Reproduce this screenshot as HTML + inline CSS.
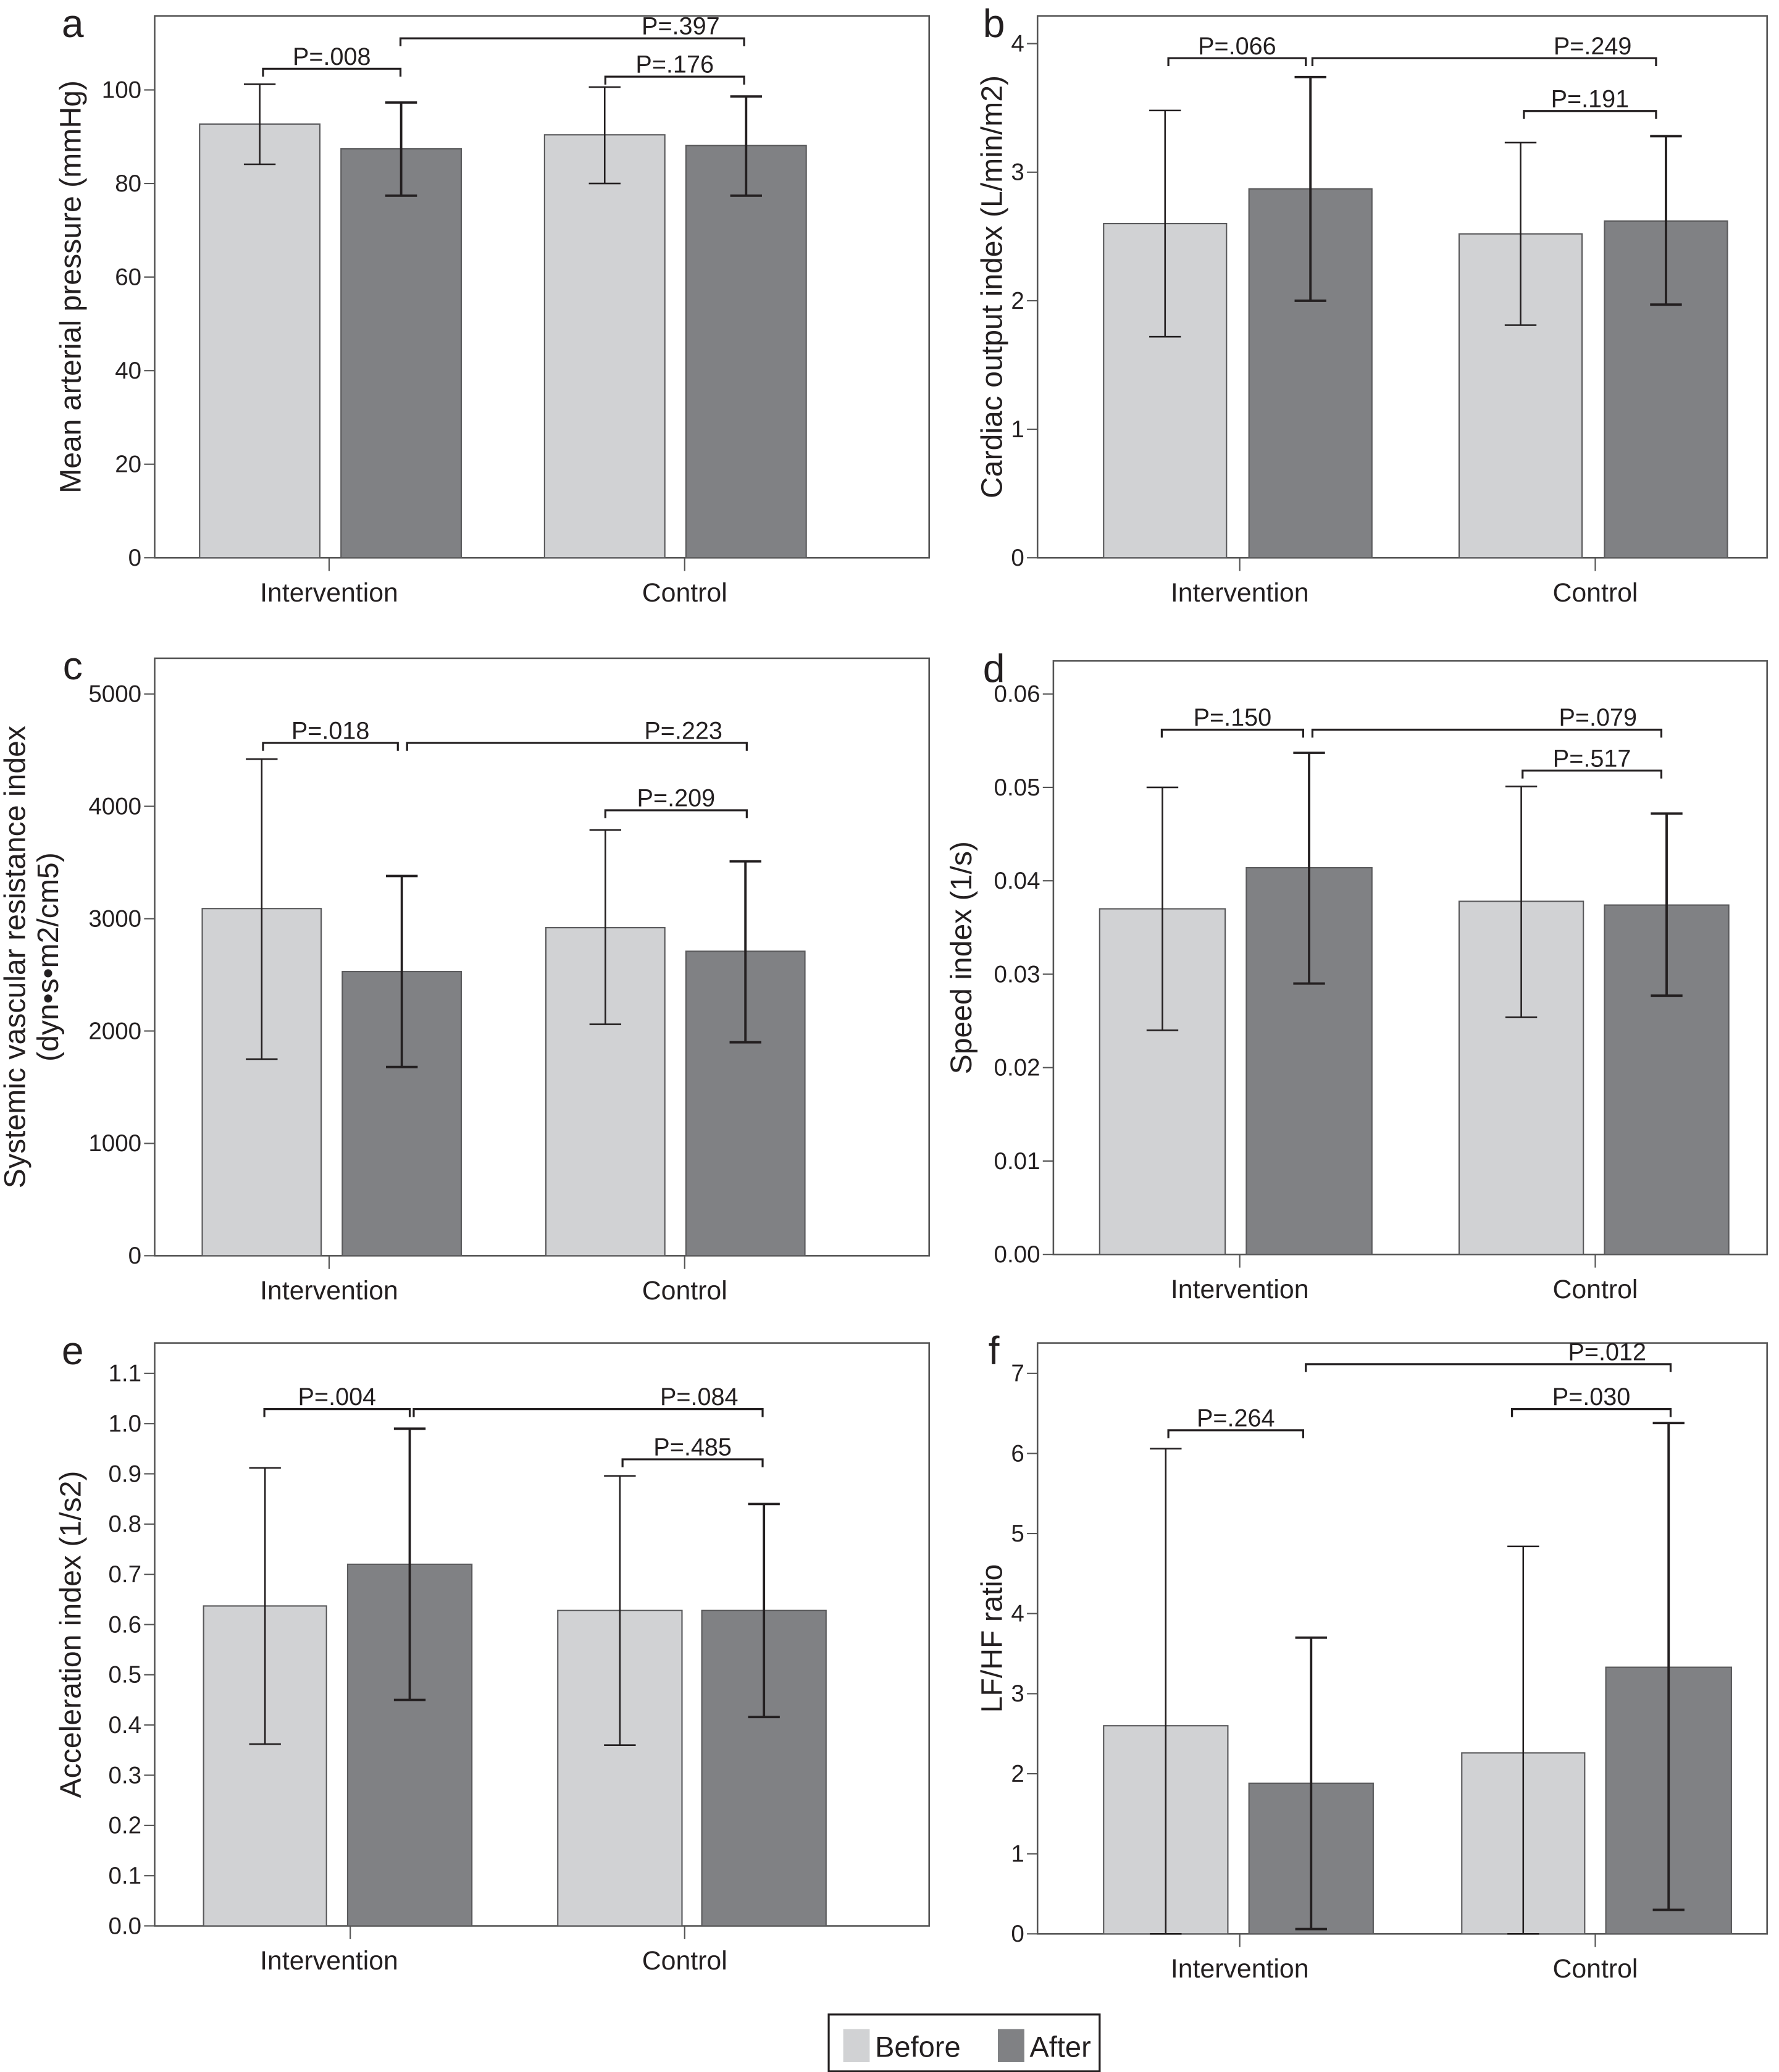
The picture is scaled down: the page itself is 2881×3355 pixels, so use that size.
<!DOCTYPE html>
<html><head><meta charset="utf-8"><style>
html,body{margin:0;padding:0;background:#fff}
svg{display:block}
text{font-family:"Liberation Sans Narrow","Liberation Sans",sans-serif;fill:#231f20}
</style></head><body>
<svg id="fig" width="2881" height="3355" viewBox="0 0 1346 1567.5" xmlns="http://www.w3.org/2000/svg"></svg>
<script>
const categories = ["Intervention","Control"];
const seriesNames = ["Before","After"];
// per panel: means [IntBefore, IntAfter, CtrlBefore, CtrlAfter], lower/upper error bar ends
const aMean=[92.7,87.4,90.4,88.1], aLow=[84.1,77.4,80.0,77.4], aHigh=[101.2,97.3,100.6,98.6];
const aTicks=[0,20,40,60,80,100];
const bMean=[2.60,2.87,2.52,2.62], bLow=[1.72,2.00,1.81,1.97], bHigh=[3.48,3.74,3.23,3.28];
const bTicks=[0,1,2,3,4];
const cMean=[3090,2530,2920,2710], cLow=[1750,1680,2060,1900], cHigh=[4420,3380,3790,3510];
const cTicks=[0,1000,2000,3000,4000,5000];
const dMean=[0.0370,0.0414,0.0378,0.0374], dLow=[0.0240,0.0290,0.0254,0.0277], dHigh=[0.0500,0.0537,0.0501,0.0472];
const dTicks=[0,0.01,0.02,0.03,0.04,0.05,0.06];
const eMean=[0.637,0.720,0.628,0.628], eLow=[0.362,0.450,0.360,0.416], eHigh=[0.912,0.990,0.896,0.840];
const eTicks=[0,0.1,0.2,0.3,0.4,0.5,0.6,0.7,0.8,0.9,1.0,1.1];
const fMean=[2.60,1.88,2.26,3.33], fLow=[0,0.06,0,0.30], fHigh=[6.06,3.70,4.84,6.38];
const fTicks=[0,1,2,3,4,5,6,7];
const aP=["P=.008","P=.397","P=.176"], bP=["P=.066","P=.249","P=.191"], cP=["P=.018","P=.223","P=.209"];
const dP=["P=.150","P=.079","P=.517"], eP=["P=.004","P=.084","P=.485"], fP=["P=.264","P=.012","P=.030"];

const NS="http://www.w3.org/2000/svg";
const svg=document.getElementById('fig');
function mk(tag,attrs,parent,txt){const e=document.createElementNS(NS,tag);for(const k in attrs)e.setAttribute(k,attrs[k]);if(txt!==undefined)e.textContent=txt;(parent||svg).appendChild(e);return e;}

const panels=[
 {id:'a',lx:55,L:117,R:703,T:12,y0:422,yTop:100,yTopPx:68,mean:aMean,low:aLow,high:aHigh,ticks:aTicks,fmt:v=>String(v),
  bars:[[151,242],[258,349],[412,503],[519,610]],cat:[249,518],catLab:[249,518],title:["Mean arterial pressure (mmHg)"],tx:[55],
  p:aP,br:[[199,303,52],[303,563,29],[458,563,58]]},
 {id:'b',lx:752,L:785,R:1337,T:12,y0:422,yTop:4,yTopPx:33,mean:bMean,low:bLow,high:bHigh,ticks:bTicks,fmt:v=>String(v),
  bars:[[835,928],[945,1038],[1104,1197],[1214,1307]],cat:[938,1207],catLab:[938,1207],title:["Cardiac output index (L/min/m2)"],tx:[752],
  p:bP,br:[[884,988,44],[993,1253,44],[1153,1253,84]]},
 {id:'c',lx:55,L:117,R:703,T:498,y0:950,yTop:5000,yTopPx:525,mean:cMean,low:cLow,high:cHigh,ticks:cTicks,fmt:v=>String(v),
  bars:[[153,243],[259,349],[413,503],[519,609]],cat:[249,518],catLab:[249,518],title:["Systemic vascular resistance index","(dyn•s•m2/cm5)"],tx:[13,38],
  p:cP,br:[[199,301,562],[308,565,562],[458,565,613]]},
 {id:'d',lx:752,L:797,R:1337,T:500,y0:949,yTop:0.06,yTopPx:525,mean:dMean,low:dLow,high:dHigh,ticks:dTicks,fmt:v=>v.toFixed(2),
  bars:[[832,927],[943,1038],[1104,1198],[1214,1308]],cat:[938,1207],catLab:[938,1207],title:["Speed index (1/s)"],tx:[729],
  p:dP,br:[[879,986,552],[993,1257,552],[1152,1257,583]]},
 {id:'e',lx:55,L:117,R:703,T:1016,y0:1457,yTop:1.1,yTopPx:1039,mean:eMean,low:eLow,high:eHigh,ticks:eTicks,fmt:v=>v.toFixed(1),
  bars:[[154,247],[263,357],[422,516],[531,625]],cat:[265,518],catLab:[249,518],title:["Acceleration index (1/s2)"],tx:[55],
  p:eP,br:[[200,310,1066],[313,577,1066],[471,577,1104]]},
 {id:'f',lx:752,L:785,R:1337,T:1016,y0:1463,yTop:7,yTopPx:1039,mean:fMean,low:fLow,high:fHigh,ticks:fTicks,fmt:v=>String(v),
  bars:[[835,929],[945,1039],[1106,1199],[1215,1310]],cat:[938,1207],catLab:[938,1207],title:["LF/HF ratio"],tx:[752],
  p:fP,br:[[884,986,1082],[988,1264,1032],[1144,1264,1066]]}
];
const fills=['#d1d2d4','#808184'];

panels.forEach(P=>{
  const g=mk('g',{});
  
  
  const y=v=>P.y0-(v/P.yTop)*(P.y0-P.yTopPx);
  const lab=mk('text',{x:P.lx,y:P.T+16,'font-size':30,'text-anchor':'middle'},g,P.id);
  
  
  const box=mk('rect',{x:P.L,y:P.T,width:P.R-P.L,height:P.y0-P.T,fill:'none',stroke:'#555',"stroke-width":1.2},g);
  
  
  P.ticks.forEach(t=>{
    const ty=y(t);
    mk('line',{x1:P.L-8,x2:P.L,y1:ty,y2:ty,stroke:'#555','stroke-width':1},g);
    const tl=mk('text',{x:P.L-10,y:ty+6,'font-size':18,'text-anchor':'end'},g,P.fmt(t));
    
    
  });
  P.title.forEach((s,i)=>{
    const cy=(P.T+P.y0)/2;
    const tt=mk('text',{x:P.tx[i],y:cy,'font-size':22.5,'text-anchor':'middle',transform:`rotate(-90 ${P.tx[i]} ${cy})`,'dominant-baseline':'middle'},g,s);
    
    
  });
  categories.forEach((c,i)=>{
    mk('line',{x1:P.cat[i],x2:P.cat[i],y1:P.y0,y2:P.y0+10,stroke:'#555','stroke-width':1},g);
    const cl=mk('text',{x:P.catLab[i],y:P.y0+33,'font-size':20,'text-anchor':'middle'},g,c);
    
    
  });
  P.mean.forEach((m,i)=>{
    const [x1,x2]=P.bars[i];
    const r=mk('rect',{x:x1,y:y(m),width:x2-x1,height:P.y0-y(m),fill:fills[i%2],stroke:'#5a5a5c','stroke-width':1},g);
    
    
  });
  P.mean.forEach((m,i)=>{
    const cx=(P.bars[i][0]+P.bars[i][1])/2, sw=i%2?1.8:1.2;
    const eg=mk('g',{stroke:'#231f20','stroke-width':sw},g);
    
    
    mk('line',{x1:cx,x2:cx,y1:y(P.low[i]),y2:y(P.high[i])},eg);
    mk('line',{x1:cx-12,x2:cx+12,y1:y(P.low[i]),y2:y(P.low[i])},eg);
    mk('line',{x1:cx-12,x2:cx+12,y1:y(P.high[i]),y2:y(P.high[i])},eg);
  });
  P.br.forEach((b,i)=>{
    const [x1,x2,by]=b;
    const bp=mk('path',{d:`M${x1} ${by+6}V${by}H${x2}V${by+6}`,fill:'none',stroke:'#231f20','stroke-width':1.5},g);
    
    
    let tx=(x1+x2)/2; if(x2-x1>200) tx=x2-48;
    const pt=mk('text',{x:tx,y:by-3,'font-size':18.5,'text-anchor':'middle'},g,P.p[i]);
    
    
  });
});
const lg=mk('g',{});


mk('rect',{x:627,y:1524,width:205,height:43,fill:'#fff',stroke:'#231f20','stroke-width':1.5},lg);
seriesNames.forEach((s,i)=>{
  const x=i?755:638;
  const sq=mk('rect',{x:x,y:1535,width:20,height:25,fill:fills[i]},lg);
  
  
  const t=mk('text',{x:x+24,y:1556,'font-size':22},lg,s);
  
  
});
</script>
</body></html>
